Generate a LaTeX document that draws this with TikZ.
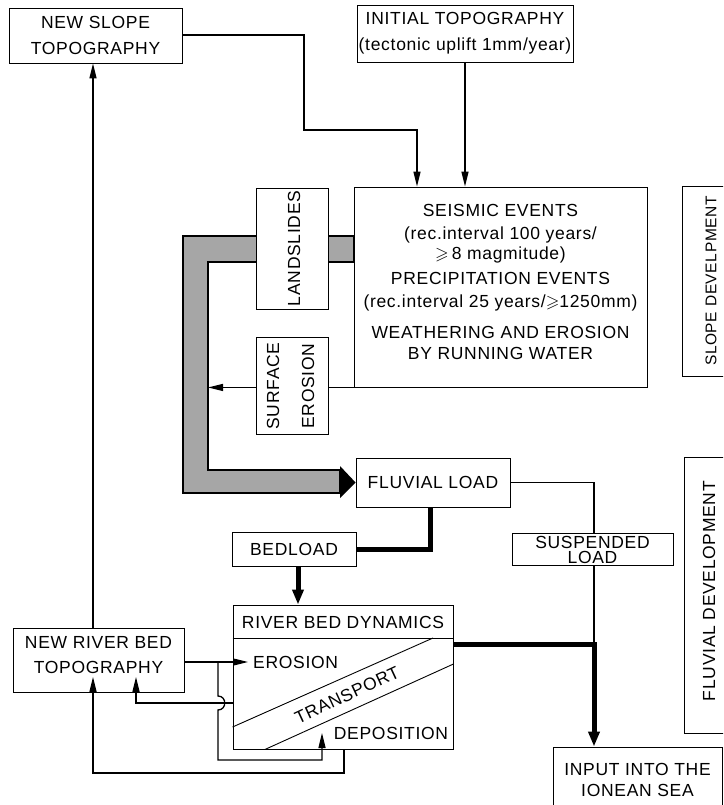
\documentclass[tikz,border=0pt]{standalone}
\usepackage{fontspec}
\setmainfont[LetterSpace=4]{Liberation Sans}
\usepackage{amssymb}
\usetikzlibrary{arrows.meta}
\begin{document}
\begin{tikzpicture}[x=1pt,y=-1pt,
  box/.style={draw, line width=0.9pt, fill=white, inner sep=0pt, align=center},
  tl/.style={line width=1.3pt},
  arr/.style={tl, -{Triangle[length=15pt,width=7pt]}},
  tk/.style={line width=5pt},
  tkarr/.style={tk, -{Triangle[length=15pt,width=11pt]}},
  lab/.style={inner sep=0pt, align=center},
  font=\fontsize{17.5}{21}\selectfont]
\useasboundingbox (0,0) rectangle (723,805);
\clip (0,0) rectangle (723,805);

% boxes
\node[box, minimum width=173, minimum height=55] (nslope) at (95.5,35.5) {NEW SLOPE\\[5pt]TOPOGRAPHY};
\node[box, minimum width=216, minimum height=57] (itopo) at (465,33.5) {INITIAL TOPOGRAPHY\\[5pt](tectonic uplift 1mm/year)};
\node[box, minimum width=293, minimum height=200] (events) at (500.5,287) {};
\node[box, minimum width=154, minimum height=49] (fluv) at (433,482.5) {FLUVIAL LOAD};
\node[box, minimum width=124, minimum height=34] (bedl) at (294,549) {BEDLOAD};
\node[box, minimum width=220, minimum height=144] (rbd) at (343,677) {};
\node[box, minimum width=171, minimum height=64] (nrbt) at (98.5,660) {};
\node[box, minimum width=169, minimum height=65] (input) at (637.5,779.5) {INPUT INTO THE\\IONEAN SEA};
\node[box, minimum width=50, minimum height=190] (slopedev) at (707,281) {};
\node[box, minimum width=50, minimum height=276] (fluvdev) at (709,595) {};

% texts
\node[lab, anchor=north] (eventst) at (500.5,204) {SEISMIC EVENTS\\[2pt](rec.interval 100 years/\\[-1pt]$\geqslant$\,8 magmitude)\\[4pt]PRECIPITATION EVENTS\\[2pt](rec.interval 25 years/$\geqslant$1250mm)\\[10pt]WEATHERING AND EROSION\\BY RUNNING WATER};
\node[lab] (nrbtt) at (98.5,655) {NEW RIVER BED\\[4pt]TOPOGRAPHY};
\node[lab, rotate=90, font=\fontsize{15.5}{18}\selectfont] (slopedevt) at (711,281) {SLOPE DEVELPMENT};
\node[lab, rotate=90] (fluvdevt) at (709,591) {FLUVIAL DEVELOPMENT};

% shaded band (landslides path)
\path[fill=black!35, draw=black, line width=1.2pt]
  (events.west |- 0,236) -- (183,236) -- (183,493) -- (340,493) -- (340,470)
  -- (208,470) -- (208,262) -- (events.west |- 0,262) -- cycle;
\fill (340,466) -- (fluv.west) -- (340,498) -- cycle;

% landslides & surface erosion boxes (over the band)
\node[box, minimum width=72, minimum height=121] (lands) at (292,248.5) {};
\node[lab, rotate=90] (landst) at (294,248.5) {LANDSLIDES};
\node[box, minimum width=72, minimum height=97] (surf) at (292,385.5) {};
\node[lab, rotate=90] (surft) at (290.5,386) {SURFACE\\[14pt]EROSION};

% river bed dynamics interior
\draw[line width=0.9pt] (rbd.west |- 0,638) -- (rbd.east |- 0,638);
\draw[line width=0.9pt] (rbd.west |- 0,727) -- (433,638);
\draw[line width=0.9pt] (265,0 |- rbd.south) -- (rbd.east |- 0,664);
\node[lab] (rbdt) at (343,622) {RIVER BED DYNAMICS};
\node[lab, anchor=west] (eros) at (253,662) {EROSION};
\node[lab, rotate=25] (transp) at (347,695) {TRANSPORT};
\node[lab] (depo) at (391,733) {DEPOSITION};

% connectors
\draw[arr] (nslope.east |- 0,35) -- (304,35) -- (304,130) -- (417,130) -- (417,0 |- events.north);
\draw[arr] (itopo.south) -- (itopo.south |- events.north);
\draw[tl] (events.south west) -- (surf.east |- events.south west);
\draw[arr] (surf.west |- events.south west) -- (208,0 |- events.south west);
\draw[tk] (430,0 |- fluv.south) |- (bedl.east);
\draw[tkarr] (298,0 |- bedl.south) -- (298,0 |- rbd.north);
\node[box, minimum width=161, minimum height=32] (susp) at (592.5,549) {};
\draw[tl] (fluv.east) -| (594,0 |- susp.north);
\node[lab, font=\fontsize{17.5}{15}\selectfont] (suspt) at (592.5,550) {SUSPENDED\\LOAD};
\draw[tl] (594,0 |- susp.south) -- (594,644);
\draw[tkarr] (rbd.east |- 0,644) -| (594,0 |- input.north);
\draw[arr] (nrbt.east |- 0,662) -- (248,662);
\draw[arr] (218,662) -- (218,696) .. controls (227,696) and (227,710) .. (218,710) -- (218,760) -- (322,760) -- (322,733);
\draw[arr] (rbd.west |- 0,703) -- (136,703) -- (136,677);
\draw[arr] (344,0 |- rbd.south) -- (344,773) -- (93,773) -- (93,677);
\draw[arr] (93,0 |- nrbt.north) -- (93,0 |- nslope.south);
\end{tikzpicture}
\end{document}
